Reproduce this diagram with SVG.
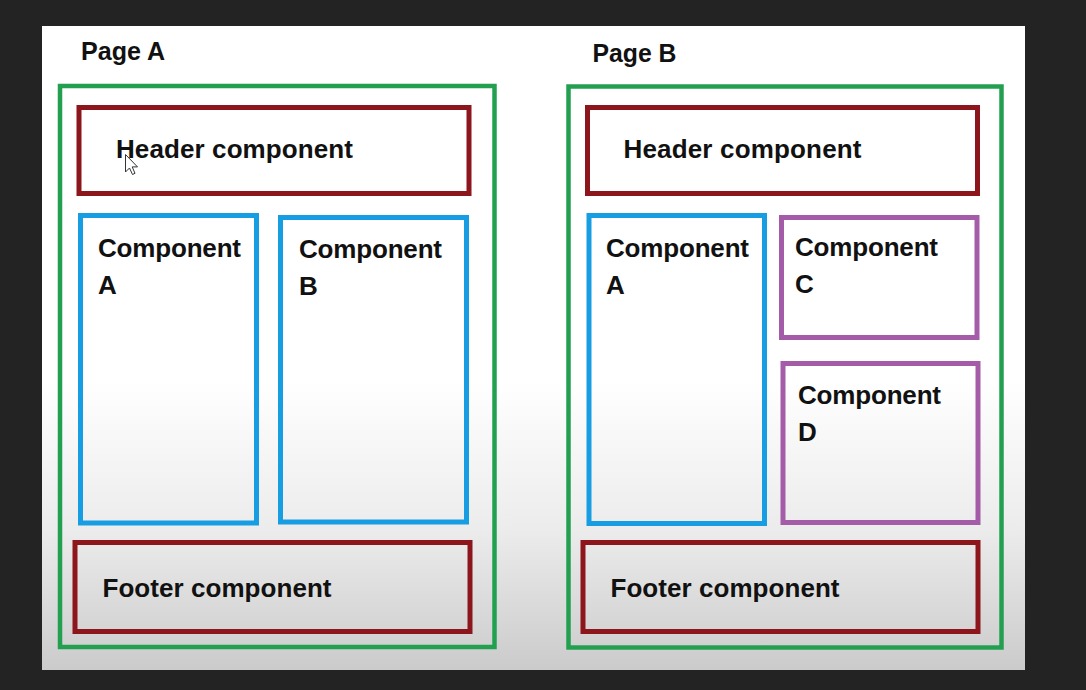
<svg xmlns="http://www.w3.org/2000/svg" width="1086" height="690" viewBox="0 0 1086 690">
  <defs>
    <linearGradient id="panelGrad" x1="0" y1="0" x2="0" y2="1">
      <stop offset="0" stop-color="#ffffff"/>
      <stop offset="0.55" stop-color="#ffffff"/>
      <stop offset="0.78" stop-color="#ececec"/>
      <stop offset="1" stop-color="#cbcbcb"/>
    </linearGradient>
    <style>
      .lbl { font-family: "Liberation Sans", Arial, sans-serif; font-weight: bold; font-size: 26px; fill: #111111; }
      .page { fill: none; stroke: #22a04f; stroke-width: 4.5; }
      .hf { fill: none; stroke: #8c161c; stroke-width: 5; }
      .blue { fill: none; stroke: #179de2; stroke-width: 5; }
      .purple { fill: none; stroke: #a45ca9; stroke-width: 5; }
    </style>
  </defs>
  <rect x="0" y="0" width="1086" height="690" fill="#232323"/>
  <rect x="42" y="26" width="983" height="644" fill="url(#panelGrad)"/>

  <g id="pageA">
    <text class="lbl" x="81" y="60" textLength="84" lengthAdjust="spacingAndGlyphs">Page A</text>
    <rect class="page" x="60" y="86" width="434.5" height="561"/>
  </g>
  <g id="headerA">
    <rect class="hf" x="79" y="107.5" width="390" height="86"/>
    <text class="lbl" x="116" y="158" textLength="237">Header component</text>
  </g>
  <g id="componentA1">
    <rect class="blue" x="80.5" y="215.5" width="176" height="307.5"/>
    <text class="lbl" x="98" y="257" textLength="143">Component</text>
    <text class="lbl" x="98" y="294">A</text>
  </g>
  <g id="componentB">
    <rect class="blue" x="280.5" y="217.5" width="186" height="304.5"/>
    <text class="lbl" x="299" y="258" textLength="143">Component</text>
    <text class="lbl" x="299" y="295">B</text>
  </g>
  <g id="footerA">
    <rect class="hf" x="75" y="542.5" width="395" height="89"/>
    <text class="lbl" x="102.5" y="597" textLength="229">Footer component</text>
  </g>
  <g id="cursor">
    <path d="M125.5,154.5 L125.5,172 L129.5,168 L132.5,174.5 L135,173.3 L132.2,166.9 L137.5,166.9 Z" fill="#ffffff" stroke="#333333" stroke-width="1"/>
  </g>

  <g id="pageB">
    <text class="lbl" x="592.5" y="61.5" textLength="84" lengthAdjust="spacingAndGlyphs">Page B</text>
    <rect class="page" x="568.5" y="86.5" width="433" height="561"/>
  </g>
  <g id="headerB">
    <rect class="hf" x="587.5" y="107.5" width="390" height="86"/>
    <text class="lbl" x="623.5" y="158" textLength="238">Header component</text>
  </g>
  <g id="componentA2">
    <rect class="blue" x="589" y="215.5" width="175.5" height="308"/>
    <text class="lbl" x="606" y="257" textLength="143">Component</text>
    <text class="lbl" x="606" y="294">A</text>
  </g>
  <g id="componentC">
    <rect class="purple" x="781.5" y="217.5" width="195.5" height="120"/>
    <text class="lbl" x="795" y="256" textLength="143">Component</text>
    <text class="lbl" x="795" y="293">C</text>
  </g>
  <g id="componentD">
    <rect class="purple" x="783" y="363.5" width="195" height="159"/>
    <text class="lbl" x="798" y="404" textLength="143">Component</text>
    <text class="lbl" x="798" y="441">D</text>
  </g>
  <g id="footerB">
    <rect class="hf" x="583" y="542.5" width="395" height="89"/>
    <text class="lbl" x="610.5" y="597" textLength="229">Footer component</text>
  </g>

  <g id="connectors"></g>
</svg>
